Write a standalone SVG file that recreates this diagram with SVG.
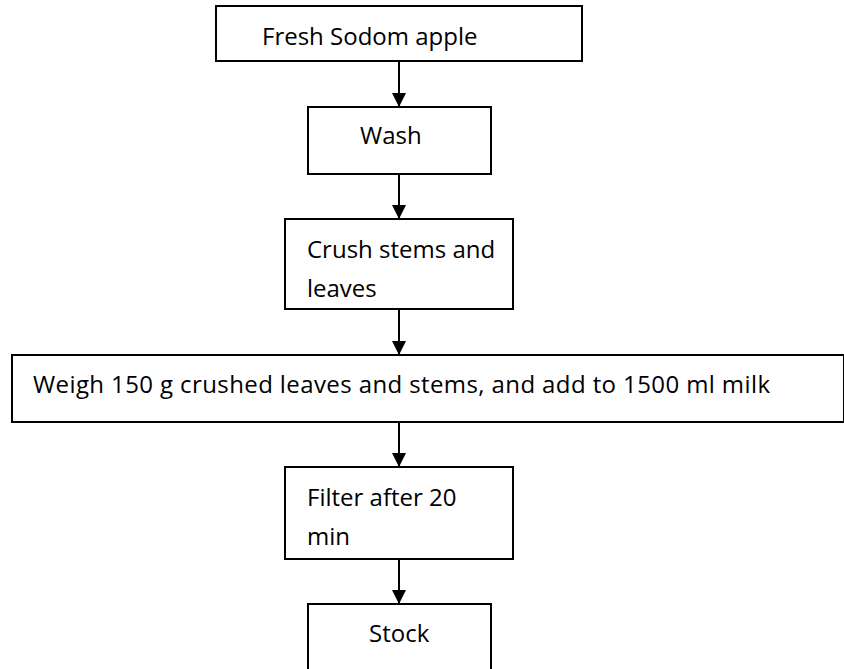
<svg xmlns="http://www.w3.org/2000/svg" width="844" height="669" viewBox="0 0 844 669">
<defs>
<style>
.box{fill:#fff;stroke:#000;stroke-width:2}
.t{font-family:"Open Sans","Noto Sans","Liberation Sans",sans-serif;font-size:24px;fill:#000}
.c{stroke:#000;stroke-width:2;fill:none}
</style>
<marker id="ah" viewBox="0 0 14 14" refX="14" refY="7" markerWidth="14" markerHeight="14" markerUnits="userSpaceOnUse" orient="auto">
<path d="M0,0 L14,7 L0,14 Z" fill="#000"/>
</marker>
</defs>
<rect width="844" height="669" fill="#fff"/>
<g id="connectors">
<line class="c" x1="399" y1="61" x2="399" y2="107" marker-end="url(#ah)"/>
<line class="c" x1="399" y1="174" x2="399" y2="219" marker-end="url(#ah)"/>
<line class="c" x1="399" y1="309" x2="399" y2="355" marker-end="url(#ah)"/>
<line class="c" x1="399" y1="422" x2="399" y2="467" marker-end="url(#ah)"/>
<line class="c" x1="399" y1="559" x2="399" y2="604" marker-end="url(#ah)"/>
</g>
<g id="n1">
<rect class="box" x="216" y="6" width="366" height="55"/>
<text class="t" x="262" y="45">Fresh Sodom apple</text>
</g>
<g id="n2">
<rect class="box" x="308" y="107" width="183" height="67"/>
<text class="t" x="360" y="144">Wash</text>
</g>
<g id="n3">
<rect class="box" x="285" y="219" width="228" height="90"/>
<text class="t" x="307" y="258">Crush stems and</text>
<text class="t" x="307" y="297">leaves</text>
</g>
<g id="n4">
<rect class="box" x="12" y="355" width="832" height="67"/>
<text class="t" x="33" y="393" textLength="737" lengthAdjust="spacing">Weigh 150 g crushed leaves and stems, and add to 1500 ml milk</text>
</g>
<g id="n5">
<rect class="box" x="285" y="467" width="228" height="92"/>
<text class="t" x="307" y="506">Filter after 20</text>
<text class="t" x="307" y="545">min</text>
</g>
<g id="n6">
<rect class="box" x="308" y="604" width="183" height="80"/>
<text class="t" x="369" y="642">Stock</text>
</g>
</svg>
